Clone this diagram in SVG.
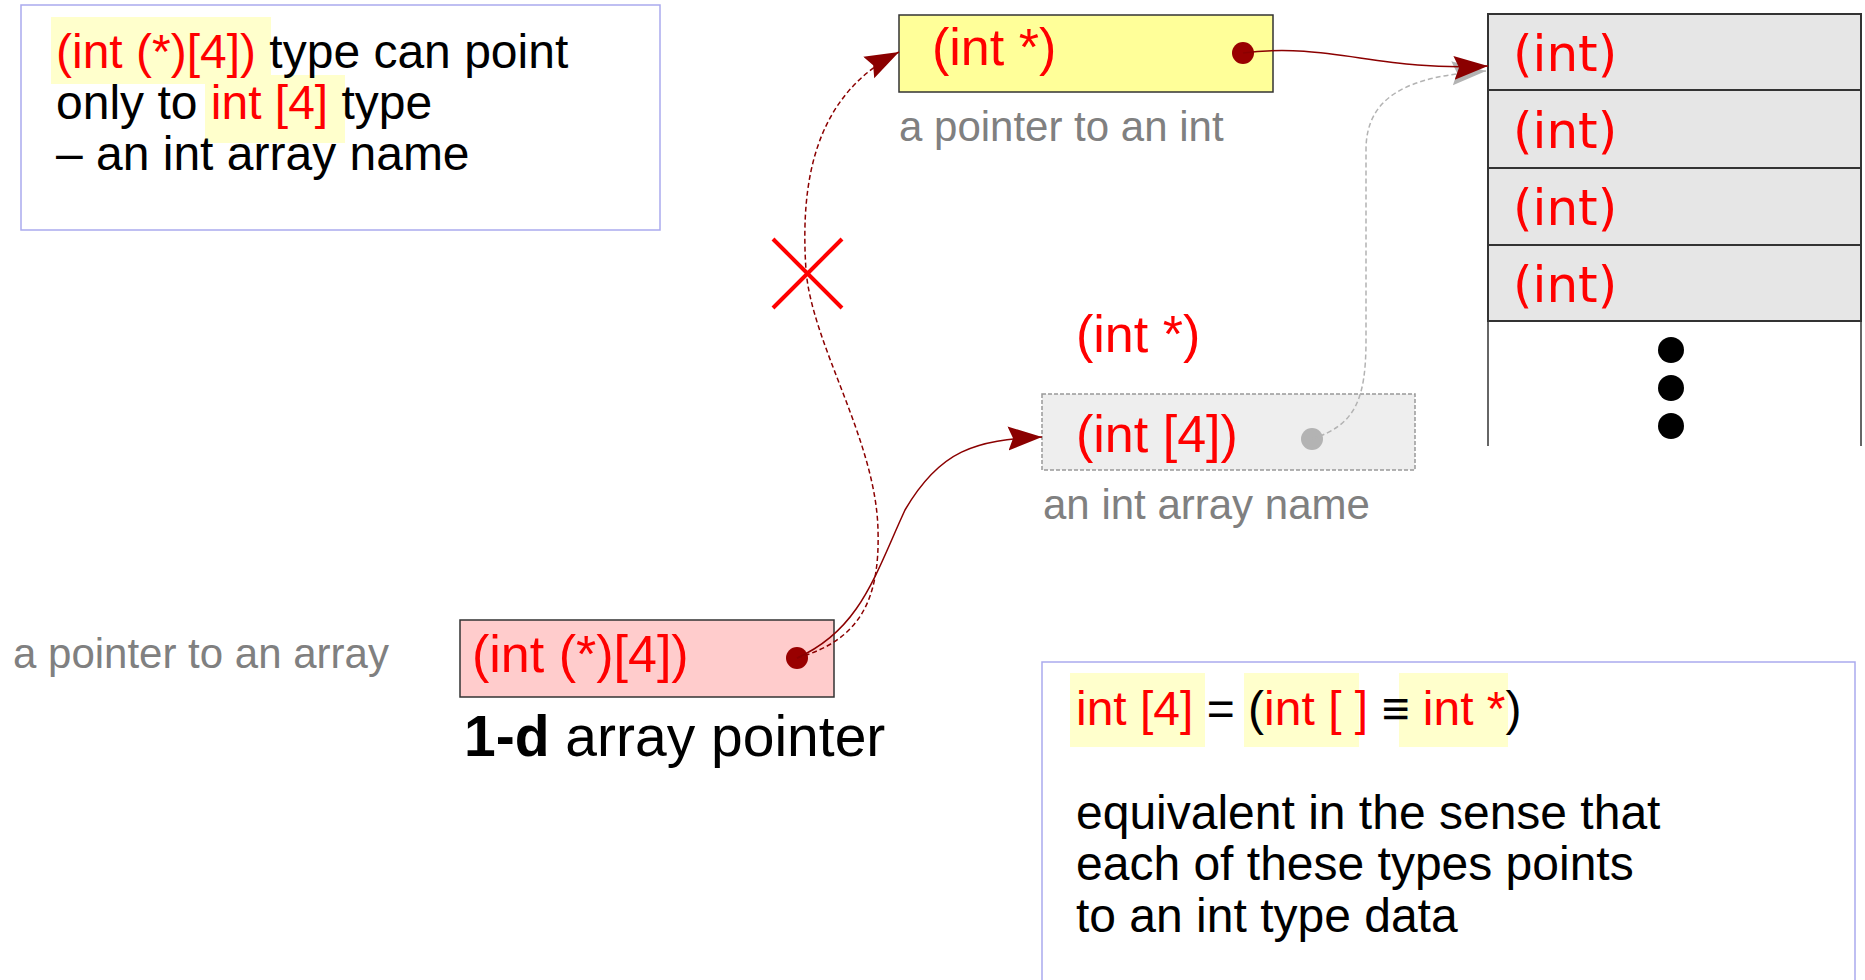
<svg xmlns="http://www.w3.org/2000/svg" width="1865" height="980" viewBox="0 0 1865 980">
<style>
text{font-family:"Liberation Sans",Arial,sans-serif}
.r{fill:#ff0000}
.k{fill:#000000}
.g{fill:#808080}
.note{fill:#ffffff;stroke:#aaaaee;stroke-width:1.5}
.hl{fill:#ffffcc}
.cell{fill:#e6e6e6;stroke:#333333;stroke-width:2}
.dj{font-family:"DejaVu Sans",sans-serif}
.con{fill:none;stroke:#8b0000;stroke-width:1.5}
</style>
<defs>
<marker id="ah" markerUnits="userSpaceOnUse" markerWidth="36" markerHeight="26" refX="34" refY="13" orient="auto">
<path d="M0,1 L34,13 L0,25 L5,13 Z" fill="#8b0000"/>
</marker>
<marker id="ahg" markerUnits="userSpaceOnUse" markerWidth="36" markerHeight="26" refX="34" refY="13" orient="auto">
<path d="M0,1 L34,13 L0,25 L5,13 Z" fill="#b3b3b3"/>
</marker>
</defs>

<g id="note-top">
<rect class="note" x="21" y="5" width="639" height="225"/>
<rect class="hl" x="51" y="17" width="220" height="67"/>
<rect class="hl" x="205" y="75" width="140" height="68"/>
<text x="56" y="68" font-size="48"><tspan class="r">(int (*)[4])</tspan><tspan class="k"> type can point</tspan></text>
<text x="56" y="119" font-size="48"><tspan class="k">only to </tspan><tspan class="r">int [4]</tspan><tspan class="k"> type</tspan></text>
<text x="56" y="170" font-size="48" class="k">– an int array name</text>
</g>

<g id="int-ptr">
<rect x="899" y="15" width="374" height="77" fill="#ffff99" stroke="#333333" stroke-width="1.5"/>
<text x="932" y="65" font-size="52" class="r">(int *)</text>
<circle cx="1243" cy="53" r="11" fill="#990000"/>
<text x="899" y="141" font-size="42" class="g">a pointer to an int</text>
</g>

<g id="array">
<line x1="1488" y1="321" x2="1488" y2="446" stroke="#666666" stroke-width="2"/>
<line x1="1861" y1="321" x2="1861" y2="446" stroke="#666666" stroke-width="2"/>
<rect class="cell" x="1488" y="14" width="373" height="76"/>
<rect class="cell" x="1488" y="90" width="373" height="78"/>
<rect class="cell" x="1488" y="168" width="373" height="77"/>
<rect class="cell" x="1488" y="245" width="373" height="76"/>
<text x="1513" y="71" font-size="50" class="r dj">(int)</text>
<text x="1513" y="148" font-size="50" class="r dj">(int)</text>
<text x="1513" y="225" font-size="50" class="r dj">(int)</text>
<text x="1513" y="302" font-size="50" class="r dj">(int)</text>
<circle cx="1671" cy="350" r="13" fill="#000"/>
<circle cx="1671" cy="388" r="13" fill="#000"/>
<circle cx="1671" cy="426" r="13" fill="#000"/>
</g>

<g id="array-name">
<text x="1076" y="352" font-size="52" class="r">(int *)</text>
<rect x="1042" y="394" width="373" height="76" fill="#eeeeee" stroke="#999999" stroke-width="1.5" stroke-dasharray="4,2"/>
<text x="1076" y="452" font-size="52" class="r">(int [4])</text>
<circle cx="1312" cy="439" r="11" fill="#b3b3b3"/>
<text x="1043" y="519" font-size="42" class="g">an int array name</text>
</g>

<g id="array-ptr">
<text x="13" y="668" font-size="42" class="g">a pointer to an array</text>
<rect x="460" y="620" width="374" height="77" fill="#ffcccc" stroke="#333333" stroke-width="1.5"/>
<text x="472" y="672" font-size="52" class="r">(int (*)[4])</text>
<circle cx="797" cy="658" r="11" fill="#990000"/>
<text x="464" y="756" font-size="57" class="k"><tspan font-weight="bold">1-d</tspan> array pointer</text>
</g>

<g id="note-bottom">
<rect class="note" x="1042" y="662" width="813" height="330"/>
<rect class="hl" x="1070" y="673" width="135" height="74"/>
<rect class="hl" x="1244" y="673" width="115" height="74"/>
<rect class="hl" x="1399" y="673" width="109" height="74"/>
<text x="1076" y="725" font-size="48"><tspan class="r">int [4]</tspan><tspan class="k"> = (</tspan><tspan class="r">int [ ]</tspan><tspan class="k"> ≡ </tspan><tspan class="r">int *</tspan><tspan class="k">)</tspan></text>
<text x="1076" y="829" font-size="48" class="k">equivalent in the sense that</text>
<text x="1076" y="880" font-size="48" class="k">each of these types points</text>
<text x="1076" y="932" font-size="48" class="k">to an int type data</text>
</g>

<g id="connectors">
<path d="M1312,439 C1355,425 1366,400 1366,340 L1366,150 C1366,95 1410,76 1486,71" fill="none" stroke="#b3b3b3" stroke-width="1.5" stroke-dasharray="5,3" marker-end="url(#ahg)"/>
<path class="con" d="M1243,53 C1330,42 1380,72 1488,66" marker-end="url(#ah)"/>
<path class="con" d="M797,658 C860,630 875,575 905,510 C940,450 975,440 1042,437" marker-end="url(#ah)"/>
<path class="con" stroke-dasharray="5,3" d="M797,658 C860,640 880,600 878,530 C876,440 812,345 806,270 C800,180 815,95 899,52" marker-end="url(#ah)"/>
<g id="cross" stroke="#ff0000" stroke-width="4">
<line x1="773" y1="239" x2="842" y2="308"/>
<line x1="842" y1="239" x2="773" y2="308"/>
</g>
</g>
</svg>
